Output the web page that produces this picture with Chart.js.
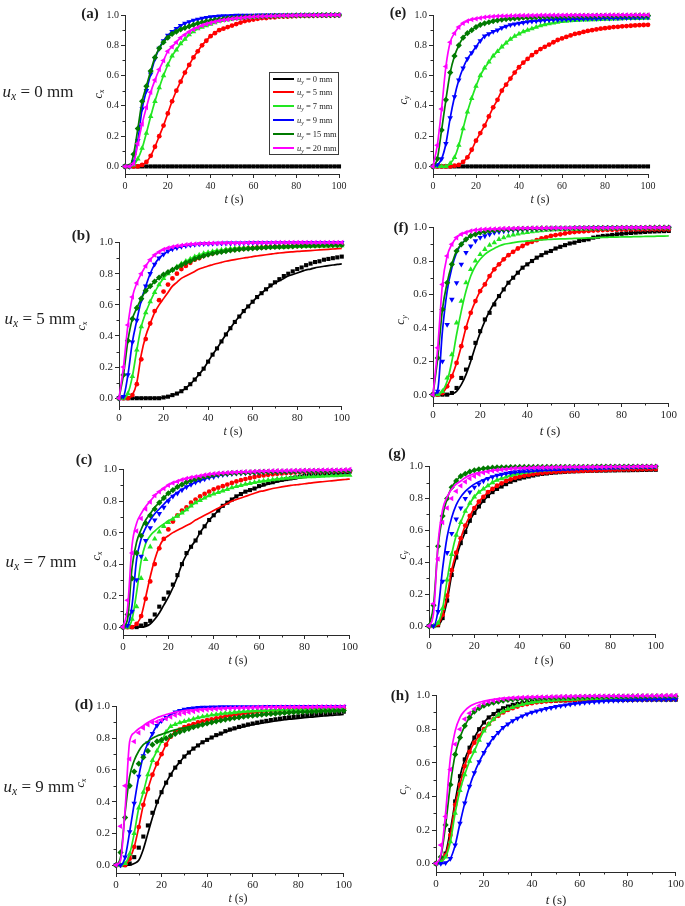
<!DOCTYPE html>
<html>
<head>
<meta charset="utf-8">
<title>Concentration curves c_x, c_y versus t</title>
<script src="https://cdn.jsdelivr.net/npm/chart.js@4.4.1/dist/chart.umd.min.js"></script>
<style>
  html, body { margin: 0; padding: 0; background: #fff; }
  body { width: 685px; height: 906px; position: relative; overflow: hidden;
         font-family: "Liberation Serif", "DejaVu Serif", serif; color: #1e1e1e; }
  canvas { position: absolute; }
  .txt { position: absolute; white-space: nowrap; line-height: 1; transform: translate(-50%, -50%); }
  .rot { transform: translate(-50%, -50%) rotate(-90deg); }
  .tag { font-weight: bold; font-size: 15px; }
  .ux { font-size: 17px; }
  .sub { font-size: 0.68em; vertical-align: -0.3em; }
  .legend { position: absolute; left: 269px; top: 72px; width: 68px; height: 81px;
            border: 1px solid #3a3a3a; background: #fff; }
  .legend .row { position: absolute; left: 2px; height: 10px; font-size: 8.5px; line-height: 10px; white-space: nowrap; }
  .legend .swatch { position: absolute; left: 1px; top: 4px; width: 21px; height: 2px; }
  .legend .lab { position: absolute; left: 25px; top: 0; }
</style>
</head>
<body>
<script>
// time of every sample (s)
const tSec = [0,2,4,6,8,10,12,14,16,18,20,22,24,26,28,30,32,34,36,38,40,42,44,46,48,50,52,54,56,58,60,62,64,66,68,70,72,74,76,78,80,82,84,86,88,90,92,94,96,98,100];

// (a) c_x, u_x = 0 mm
const a_black = [0,0,0,0,0,0,0,0,0,0, 0,0,0,0,0, 0,0,0,0,0, 0,0,0,0,0, 0,0,0,0,0, 0,0,0,0,0, 0,0,0,0,0, 0,0,0,0,0, 0,0,0,0,0, 0];
const a_red = [0,0,0,0,0.01,0.03,0.07,0.13,0.2,0.27, 0.35,0.43,0.5,0.56,0.62, 0.67,0.72,0.76,0.8,0.83, 0.86,0.88,0.9,0.91,0.92, 0.93,0.94,0.95,0.96,0.965, 0.97,0.975,0.98,0.98,0.985, 0.985,0.99,0.99,0.99,0.992, 0.993,0.994,0.995,0.995,0.996, 0.996,0.997,0.997,0.998,0.998, 0.999];
const a_green = [0,0,0.01,0.05,0.12,0.22,0.33,0.43,0.52,0.6, 0.67,0.73,0.77,0.81,0.84, 0.87,0.89,0.91,0.92,0.93, 0.94,0.95,0.96,0.965,0.97, 0.975,0.978,0.98,0.982,0.984, 0.986,0.988,0.99,0.99,0.991, 0.992,0.993,0.994,0.994,0.995, 0.995,0.996,0.996,0.997,0.997, 0.997,0.998,0.998,0.998,0.999, 0.999];
const a_blue = [0,0,0.03,0.17,0.38,0.5,0.61,0.71,0.78,0.83, 0.865,0.89,0.91,0.93,0.945, 0.955,0.965,0.972,0.978,0.983, 0.987,0.99,0.992,0.994,0.995, 0.996,0.997,0.997,0.998,0.998, 0.998,0.999,0.999,0.999,0.999, 0.999,1,1,1,1, 1,1,1,1,1, 1,1,1,1,1, 1];
const a_dkgreen = [0,0,0.08,0.25,0.43,0.53,0.63,0.72,0.78,0.82, 0.85,0.875,0.89,0.905,0.915, 0.925,0.935,0.945,0.952,0.958, 0.963,0.968,0.972,0.975,0.978, 0.98,0.982,0.984,0.986,0.988, 0.989,0.99,0.991,0.992,0.993, 0.994,0.995,0.995,0.996,0.996, 0.997,0.997,0.998,0.998,0.998, 0.999,0.999,0.999,0.999,0.999, 1];
const a_magenta = [0,0,0.02,0.15,0.28,0.39,0.49,0.57,0.64,0.7, 0.76,0.79,0.82,0.85,0.87, 0.89,0.905,0.918,0.93,0.94, 0.948,0.955,0.962,0.967,0.971, 0.975,0.978,0.981,0.984,0.986, 0.988,0.99,0.991,0.992,0.993, 0.994,0.995,0.996,0.996,0.997, 0.997,0.998,0.998,0.998,0.999, 0.999,0.999,0.999,1,1, 1];

// (e) c_y, u_x = 0 mm
const e_black = [0,0,0,0,0,0,0,0,0,0, 0,0,0,0,0, 0,0,0,0,0, 0,0,0,0,0, 0,0,0,0,0, 0,0,0,0,0, 0,0,0,0,0, 0,0,0,0,0, 0,0,0,0,0, 0];
const e_red = [0,0,0,0,0,0.005,0.01,0.03,0.06,0.11, 0.17,0.22,0.27,0.33,0.39, 0.44,0.5,0.54,0.58,0.62, 0.655,0.685,0.71,0.735,0.755, 0.775,0.79,0.805,0.82,0.835, 0.845,0.855,0.865,0.875,0.88, 0.888,0.895,0.9,0.905,0.91, 0.913,0.916,0.92,0.922,0.925, 0.927,0.929,0.931,0.933,0.934, 0.935];
const e_green = [0,0,0,0,0.02,0.06,0.14,0.25,0.36,0.45, 0.53,0.6,0.65,0.69,0.73, 0.76,0.79,0.815,0.84,0.86, 0.875,0.89,0.9,0.91,0.92, 0.93,0.937,0.943,0.948,0.953, 0.957,0.96,0.962,0.964,0.966, 0.967,0.968,0.969,0.97,0.971, 0.972,0.973,0.974,0.975,0.976, 0.977,0.977,0.978,0.978,0.979, 0.98];
const e_blue = [0,0.01,0.05,0.15,0.32,0.46,0.57,0.65,0.71,0.75, 0.79,0.83,0.86,0.875,0.89, 0.9,0.915,0.925,0.935,0.94, 0.945,0.95,0.955,0.958,0.96, 0.963,0.965,0.967,0.968,0.969, 0.97,0.971,0.972,0.973,0.974, 0.975,0.976,0.977,0.977,0.978, 0.979,0.979,0.98,0.98,0.981, 0.982,0.982,0.983,0.983,0.984, 0.985];
const e_dkgreen = [0,0.05,0.24,0.44,0.62,0.73,0.8,0.85,0.88,0.9, 0.92,0.935,0.945,0.952,0.96, 0.965,0.97,0.973,0.976,0.978, 0.98,0.982,0.983,0.984,0.985, 0.986,0.987,0.988,0.989,0.99, 0.99,0.991,0.991,0.992,0.992, 0.993,0.993,0.993,0.994,0.994, 0.994,0.994,0.995,0.995,0.995, 0.995,0.995,0.996,0.996,0.996, 0.996];
const e_magenta = [0,0.14,0.38,0.66,0.82,0.88,0.92,0.945,0.96,0.97, 0.975,0.98,0.985,0.988,0.99, 0.992,0.993,0.994,0.995,0.995, 0.996,0.996,0.997,0.997,0.997, 0.998,0.998,0.998,0.998,0.998, 0.999,0.999,0.999,0.999,0.999, 0.999,0.999,0.999,0.999,0.999, 1,1,1,1,1, 1,1,1,1,1, 1];

// (b) c_x, u_x = 5 mm
const b_black = [0,0,0,0,0,0,0,0,0,0, 0.005,0.01,0.02,0.03,0.045, 0.065,0.09,0.12,0.155,0.19, 0.235,0.28,0.32,0.365,0.41, 0.45,0.49,0.525,0.56,0.59, 0.62,0.65,0.675,0.7,0.725, 0.745,0.765,0.785,0.8,0.815, 0.83,0.84,0.855,0.865,0.875, 0.88,0.89,0.895,0.9,0.905, 0.91];
const b_blackFit = [0,0,0,0,0,0,0,0,0,0, 0.005,0.01,0.02,0.03,0.045, 0.065,0.09,0.12,0.155,0.19, 0.235,0.28,0.32,0.365,0.41, 0.45,0.49,0.525,0.56,0.59, 0.62,0.65,0.675,0.7,0.72, 0.74,0.755,0.77,0.785,0.795, 0.805,0.815,0.825,0.83,0.838, 0.843,0.848,0.852,0.856,0.86, 0.863];
const b_red = [0,0,0,0.02,0.09,0.25,0.38,0.48,0.56,0.63, 0.685,0.73,0.77,0.8,0.83, 0.85,0.87,0.89,0.9,0.915, 0.925,0.93,0.94,0.945,0.95, 0.953,0.956,0.959,0.961,0.963, 0.965,0.967,0.968,0.97,0.971, 0.972,0.973,0.974,0.975,0.976, 0.977,0.978,0.979,0.979,0.98, 0.981,0.982,0.983,0.984,0.984, 0.985];
const b_redFit = [0,0,0,0.02,0.1,0.28,0.4,0.48,0.55,0.6, 0.64,0.68,0.72,0.745,0.77, 0.785,0.8,0.815,0.83,0.84, 0.85,0.858,0.866,0.873,0.88, 0.886,0.891,0.896,0.901,0.905, 0.91,0.914,0.918,0.922,0.926, 0.93,0.933,0.936,0.939,0.941, 0.943,0.945,0.947,0.949,0.951, 0.953,0.955,0.957,0.959,0.961, 0.963];
const b_green = [0,0,0.03,0.14,0.31,0.46,0.55,0.62,0.68,0.73, 0.77,0.8,0.825,0.845,0.865, 0.88,0.895,0.91,0.92,0.93, 0.937,0.943,0.948,0.952,0.956, 0.96,0.962,0.964,0.965,0.966, 0.967,0.968,0.969,0.97,0.971, 0.972,0.973,0.973,0.974,0.975, 0.976,0.976,0.977,0.977,0.978, 0.978,0.979,0.979,0.98,0.98, 0.98];
const b_blue = [0,0.01,0.15,0.36,0.5,0.63,0.72,0.8,0.86,0.9, 0.925,0.945,0.958,0.967,0.975, 0.98,0.984,0.987,0.99,0.992, 0.993,0.994,0.995,0.995,0.996, 0.996,0.997,0.997,0.997,0.998, 0.998,0.998,0.998,0.998,0.999, 0.999,0.999,0.999,0.999,0.999, 0.999,0.999,1,1,1, 1,1,1,1,1, 1];
const b_dkgreen = [0,0.15,0.37,0.51,0.58,0.64,0.69,0.72,0.75,0.775, 0.795,0.81,0.825,0.84,0.855, 0.87,0.88,0.895,0.905,0.915, 0.922,0.93,0.935,0.94,0.945, 0.95,0.953,0.956,0.959,0.961, 0.963,0.965,0.967,0.969,0.971, 0.972,0.973,0.974,0.975,0.976, 0.978,0.979,0.98,0.98,0.981, 0.982,0.983,0.983,0.984,0.984, 0.985];
const b_magenta = [0,0.2,0.47,0.65,0.74,0.8,0.85,0.89,0.92,0.94, 0.955,0.965,0.972,0.978,0.982, 0.986,0.989,0.991,0.993,0.994, 0.995,0.996,0.996,0.997,0.997, 0.998,0.998,0.998,0.998,0.999, 0.999,0.999,0.999,0.999,0.999, 1,1,1,1,1, 1,1,1,1,1, 1,1,1,1,1, 1];

// (f) c_y, u_x = 5 mm
const f_black = [0,0,0,0,0.01,0.04,0.1,0.15,0.22,0.31, 0.38,0.45,0.49,0.54,0.59, 0.63,0.67,0.7,0.73,0.76, 0.78,0.8,0.82,0.835,0.85, 0.86,0.875,0.885,0.895,0.905, 0.91,0.92,0.925,0.93,0.94, 0.945,0.95,0.952,0.956,0.96, 0.963,0.966,0.968,0.97,0.972, 0.974,0.976,0.977,0.978,0.979, 0.98];
const f_blackFit = [0,0,0,0,0.005,0.02,0.06,0.12,0.2,0.29, 0.37,0.44,0.5,0.55,0.59, 0.63,0.67,0.7,0.73,0.76, 0.78,0.8,0.82,0.835,0.85, 0.86,0.875,0.885,0.895,0.905, 0.91,0.92,0.925,0.93,0.94, 0.945,0.95,0.952,0.956,0.96, 0.963,0.966,0.968,0.97,0.972, 0.974,0.976,0.977,0.978,0.979, 0.98];
const f_red = [0,0,0.01,0.05,0.11,0.19,0.29,0.4,0.49,0.56, 0.62,0.66,0.71,0.75,0.78, 0.81,0.835,0.855,0.875,0.89, 0.905,0.915,0.925,0.935,0.942, 0.95,0.955,0.96,0.965,0.97, 0.973,0.976,0.978,0.98,0.982, 0.984,0.985,0.986,0.987,0.987, 0.988,0.988,0.989,0.989,0.989, 0.99,0.99,0.99,0.99,0.99, 0.99];
const f_green = [0,0,0.02,0.1,0.24,0.43,0.56,0.67,0.75,0.8, 0.84,0.87,0.895,0.91,0.93, 0.94,0.95,0.957,0.963,0.968, 0.972,0.976,0.979,0.982,0.984, 0.986,0.987,0.988,0.989,0.99, 0.99,0.991,0.992,0.992,0.993, 0.993,0.994,0.994,0.995,0.995, 0.996,0.996,0.997,0.997,0.997, 0.998,0.998,0.999,0.999,0.999, 1];
const f_greenFit = [0,0,0.02,0.08,0.2,0.36,0.5,0.62,0.71,0.77, 0.81,0.84,0.86,0.875,0.89, 0.9,0.905,0.91,0.915,0.918, 0.92,0.922,0.924,0.926,0.928, 0.93,0.931,0.932,0.933,0.934, 0.935,0.936,0.937,0.938,0.939, 0.94,0.941,0.942,0.943,0.943, 0.944,0.945,0.945,0.946,0.946, 0.947,0.948,0.948,0.949,0.949, 0.95];
const f_blue = [0,0.02,0.2,0.42,0.57,0.67,0.78,0.85,0.89,0.92, 0.94,0.95,0.96,0.97,0.975, 0.98,0.983,0.986,0.988,0.99, 0.991,0.992,0.993,0.994,0.994, 0.995,0.995,0.996,0.996,0.996, 0.997,0.997,0.997,0.997,0.998, 0.998,0.998,0.998,0.998,0.998, 0.999,0.999,0.999,0.999,0.999, 0.999,0.999,1,1,1, 1];
const f_blueFit = [0,0.03,0.38,0.62,0.76,0.85,0.9,0.93,0.95,0.965, 0.972,0.976,0.98,0.982,0.984, 0.985,0.986,0.987,0.988,0.989, 0.99,0.991,0.992,0.993,0.993, 0.994,0.994,0.995,0.995,0.995, 0.996,0.996,0.996,0.997,0.997, 0.997,0.997,0.998,0.998,0.998, 0.998,0.999,0.999,0.999,0.999, 0.999,0.999,1,1,1, 1];
const f_dkgreen = [0,0.22,0.51,0.67,0.78,0.86,0.9,0.93,0.95,0.96, 0.97,0.975,0.98,0.983,0.986, 0.988,0.989,0.99,0.991,0.992, 0.993,0.994,0.994,0.995,0.995, 0.995,0.996,0.996,0.996,0.996, 0.997,0.997,0.997,0.997,0.998, 0.998,0.998,0.998,0.998,0.998, 0.999,0.999,0.999,0.999,0.999, 0.999,1,1,1,1, 1];
const f_magenta = [0,0.28,0.66,0.83,0.9,0.94,0.96,0.97,0.98,0.985, 0.988,0.99,0.991,0.992,0.993, 0.994,0.995,0.995,0.996,0.996, 0.996,0.997,0.997,0.997,0.997, 0.998,0.998,0.998,0.998,0.998, 0.999,0.999,0.999,0.999,0.999, 0.999,0.999,0.999,0.999,0.999, 1,1,1,1,1, 1,1,1,1,1, 1];

// (c) c_x, u_x = 7 mm
const c_black = [0,0,0,0,0.01,0.02,0.04,0.08,0.13,0.18, 0.22,0.27,0.33,0.4,0.47, 0.51,0.55,0.6,0.64,0.68, 0.71,0.74,0.77,0.79,0.81, 0.83,0.845,0.86,0.87,0.88, 0.895,0.905,0.915,0.92,0.93, 0.935,0.94,0.945,0.95,0.955, 0.96,0.965,0.968,0.971,0.974, 0.977,0.98,0.982,0.984,0.986, 0.988];
const c_blackFit = [0,0,0,0,0,0.005,0.02,0.05,0.09,0.14, 0.19,0.25,0.32,0.4,0.46, 0.51,0.55,0.6,0.64,0.68, 0.71,0.74,0.77,0.79,0.81, 0.83,0.845,0.86,0.87,0.88, 0.89,0.9,0.908,0.915,0.922, 0.928,0.933,0.938,0.943,0.947, 0.951,0.955,0.958,0.961,0.964, 0.966,0.968,0.97,0.972,0.974, 0.976];
const c_red = [0,0,0,0.02,0.07,0.18,0.29,0.4,0.5,0.56, 0.62,0.67,0.71,0.74,0.76, 0.79,0.81,0.83,0.845,0.86, 0.875,0.885,0.895,0.905,0.915, 0.925,0.933,0.94,0.947,0.953, 0.96,0.963,0.967,0.97,0.973, 0.976,0.978,0.98,0.982,0.984, 0.985,0.986,0.987,0.987,0.988, 0.988,0.989,0.989,0.99,0.99, 0.99];
const c_redFit = [0,0,0,0.02,0.07,0.19,0.32,0.43,0.51,0.56, 0.58,0.6,0.615,0.63,0.645, 0.66,0.68,0.695,0.71,0.725, 0.74,0.755,0.77,0.785,0.8, 0.81,0.82,0.83,0.84,0.85, 0.86,0.865,0.873,0.88,0.885, 0.89,0.895,0.9,0.903,0.906, 0.91,0.914,0.917,0.92,0.923, 0.926,0.929,0.932,0.935,0.937, 0.94];
const c_green = [0,0,0.05,0.13,0.31,0.43,0.51,0.56,0.605,0.64, 0.665,0.685,0.705,0.725,0.745, 0.77,0.79,0.805,0.82,0.835, 0.845,0.855,0.865,0.875,0.885, 0.893,0.9,0.907,0.913,0.918, 0.923,0.928,0.932,0.936,0.94, 0.943,0.946,0.948,0.95,0.952, 0.954,0.955,0.956,0.957,0.958, 0.96,0.961,0.962,0.963,0.964, 0.965];
const c_greenFit = [0,0,0.05,0.22,0.42,0.53,0.58,0.61,0.635,0.655, 0.675,0.69,0.708,0.725,0.745, 0.77,0.79,0.805,0.82,0.835, 0.845,0.855,0.865,0.875,0.885, 0.893,0.9,0.907,0.913,0.918, 0.923,0.928,0.932,0.936,0.94, 0.943,0.946,0.948,0.95,0.952, 0.954,0.955,0.956,0.957,0.958, 0.96,0.961,0.962,0.963,0.964, 0.965];
const c_blue = [0,0.01,0.1,0.3,0.45,0.55,0.63,0.68,0.72,0.76, 0.8,0.83,0.85,0.87,0.89, 0.905,0.92,0.93,0.94,0.95, 0.955,0.962,0.967,0.97,0.973, 0.976,0.977,0.978,0.979,0.98, 0.982,0.983,0.984,0.985,0.985, 0.986,0.986,0.987,0.987,0.987, 0.988,0.988,0.988,0.989,0.989, 0.989,0.989,0.99,0.99,0.99, 0.99];
const c_blueFit = [0,0.01,0.14,0.43,0.56,0.63,0.68,0.72,0.75,0.78, 0.81,0.835,0.855,0.875,0.89, 0.905,0.92,0.93,0.94,0.95, 0.955,0.962,0.967,0.97,0.973, 0.976,0.977,0.978,0.979,0.98, 0.982,0.983,0.984,0.985,0.985, 0.986,0.986,0.987,0.987,0.987, 0.988,0.988,0.988,0.989,0.989, 0.989,0.989,0.99,0.99,0.99, 0.99];
const c_dkgreen = [0,0.08,0.31,0.47,0.58,0.66,0.71,0.75,0.79,0.82, 0.85,0.87,0.89,0.905,0.92, 0.93,0.94,0.948,0.955,0.96, 0.966,0.97,0.973,0.975,0.977, 0.978,0.98,0.981,0.982,0.983, 0.984,0.985,0.986,0.986,0.987, 0.987,0.988,0.988,0.989,0.989, 0.99,0.99,0.99,0.991,0.991, 0.991,0.992,0.992,0.992,0.993, 0.993];
const c_dkgreenFit = [0,0.05,0.38,0.54,0.62,0.68,0.72,0.76,0.79,0.82, 0.85,0.87,0.89,0.905,0.92, 0.93,0.94,0.948,0.955,0.96, 0.966,0.97,0.973,0.975,0.977, 0.978,0.98,0.981,0.982,0.983, 0.984,0.985,0.986,0.986,0.987, 0.987,0.988,0.988,0.989,0.989, 0.99,0.99,0.99,0.991,0.991, 0.991,0.992,0.992,0.992,0.993, 0.993];
const c_magenta = [0,0.17,0.47,0.61,0.69,0.75,0.795,0.835,0.86,0.88, 0.9,0.915,0.925,0.935,0.943, 0.95,0.955,0.96,0.965,0.97, 0.973,0.976,0.978,0.98,0.982, 0.983,0.985,0.986,0.987,0.988, 0.99,0.99,0.991,0.992,0.992, 0.993,0.993,0.994,0.994,0.995, 0.995,0.996,0.996,0.996,0.997, 0.997,0.997,0.998,0.998,0.999, 1];
const c_magentaFit = [0,0.12,0.52,0.66,0.72,0.765,0.8,0.835,0.86,0.88, 0.9,0.915,0.925,0.935,0.943, 0.95,0.955,0.96,0.965,0.97, 0.973,0.976,0.978,0.98,0.982, 0.983,0.985,0.986,0.987,0.988, 0.99,0.99,0.991,0.992,0.992, 0.993,0.993,0.994,0.994,0.995, 0.995,0.996,0.996,0.996,0.997, 0.997,0.997,0.998,0.998,0.999, 1];

// (g) c_y, u_x = 7 mm
const g_black = [0,0,0.005,0.05,0.16,0.32,0.43,0.52,0.59,0.66, 0.71,0.75,0.785,0.815,0.84, 0.86,0.875,0.89,0.905,0.915, 0.925,0.932,0.938,0.944,0.95, 0.954,0.957,0.96,0.963,0.965, 0.967,0.969,0.97,0.971,0.972, 0.973,0.974,0.974,0.975,0.975, 0.976,0.976,0.977,0.977,0.977, 0.978,0.978,0.979,0.979,0.98, 0.98];
const g_red = [0,0,0.01,0.07,0.19,0.35,0.46,0.55,0.63,0.69, 0.74,0.78,0.81,0.84,0.86, 0.88,0.895,0.91,0.92,0.93, 0.937,0.943,0.948,0.953,0.957, 0.96,0.963,0.965,0.967,0.969, 0.97,0.971,0.972,0.973,0.974, 0.975,0.976,0.977,0.978,0.979, 0.98,0.981,0.981,0.982,0.982, 0.983,0.983,0.984,0.984,0.985, 0.985];
const g_green = [0,0,0.02,0.11,0.29,0.45,0.57,0.65,0.72,0.77, 0.81,0.84,0.86,0.88,0.9, 0.915,0.925,0.935,0.945,0.952, 0.958,0.963,0.967,0.971,0.974, 0.977,0.979,0.981,0.983,0.985, 0.986,0.987,0.988,0.989,0.99, 0.99,0.991,0.991,0.992,0.992, 0.993,0.993,0.994,0.994,0.995, 0.995,0.996,0.996,0.997,0.997, 0.998];
const g_blue = [0,0,0.09,0.28,0.46,0.58,0.67,0.74,0.8,0.84, 0.87,0.89,0.91,0.925,0.935, 0.945,0.952,0.958,0.963,0.967, 0.97,0.973,0.976,0.978,0.98, 0.982,0.984,0.985,0.986,0.987, 0.988,0.989,0.99,0.991,0.992, 0.993,0.993,0.994,0.994,0.995, 0.995,0.996,0.996,0.997,0.997, 0.998,0.998,0.999,0.999,0.999, 1];
const g_blueFit = [0,0,0.1,0.36,0.56,0.68,0.76,0.81,0.845,0.87, 0.89,0.905,0.918,0.928,0.937, 0.944,0.95,0.955,0.959,0.962, 0.965,0.967,0.969,0.971,0.973, 0.975,0.976,0.977,0.978,0.979, 0.98,0.981,0.982,0.983,0.984, 0.985,0.985,0.986,0.986,0.987, 0.987,0.988,0.988,0.989,0.989, 0.99,0.99,0.99,0.991,0.991, 0.991];
const g_dkgreen = [0,0.13,0.5,0.69,0.8,0.87,0.91,0.94,0.955,0.968, 0.977,0.983,0.988,0.991,0.993, 0.995,0.996,0.996,0.997,0.997, 0.998,0.998,0.998,0.998,0.999, 0.999,0.999,0.999,0.999,0.999, 0.999,0.999,0.999,0.999,0.999, 0.999,0.999,1,1,1, 1,1,1,1,1, 1,1,1,1,1, 1];
const g_magenta = [0,0.14,0.42,0.65,0.74,0.8,0.845,0.88,0.905,0.925, 0.94,0.952,0.962,0.968,0.974, 0.978,0.981,0.984,0.987,0.989, 0.99,0.991,0.992,0.993,0.994, 0.994,0.995,0.995,0.996,0.996, 0.996,0.997,0.997,0.997,0.997, 0.998,0.998,0.998,0.998,0.998, 0.999,0.999,0.999,0.999,0.999, 0.999,1,1,1,1, 1];
const g_magentaFit = [0,0.08,0.52,0.73,0.81,0.86,0.89,0.91,0.93,0.945, 0.955,0.962,0.967,0.972,0.976, 0.978,0.981,0.984,0.987,0.989, 0.99,0.991,0.992,0.993,0.994, 0.994,0.995,0.995,0.996,0.996, 0.996,0.997,0.997,0.997,0.997, 0.998,0.998,0.998,0.998,0.998, 0.999,0.999,0.999,0.999,0.999, 0.999,1,1,1,1, 1];

// (d) c_x, u_x = 9 mm
const d_black = [0,0,0,0.01,0.05,0.11,0.18,0.25,0.33,0.4, 0.46,0.52,0.57,0.615,0.65, 0.685,0.71,0.735,0.755,0.775, 0.79,0.805,0.82,0.83,0.845, 0.855,0.863,0.872,0.88,0.887, 0.893,0.899,0.905,0.91,0.915, 0.92,0.924,0.928,0.932,0.935, 0.938,0.942,0.945,0.948,0.95, 0.953,0.956,0.959,0.962,0.965, 0.968];
const d_blackFit = [0,0,0,0,0.01,0.03,0.1,0.2,0.3,0.39, 0.46,0.52,0.57,0.615,0.65, 0.685,0.71,0.735,0.755,0.775, 0.79,0.805,0.818,0.828,0.84, 0.85,0.858,0.866,0.873,0.88, 0.886,0.891,0.896,0.9,0.905, 0.909,0.913,0.917,0.92,0.923, 0.926,0.929,0.932,0.934,0.937, 0.939,0.942,0.944,0.946,0.948, 0.95];
const d_red = [0,0,0,0.04,0.115,0.24,0.38,0.48,0.57,0.64, 0.7,0.76,0.81,0.84,0.855, 0.87,0.88,0.89,0.9,0.907, 0.914,0.92,0.926,0.932,0.938, 0.943,0.948,0.952,0.956,0.96, 0.963,0.966,0.969,0.971,0.973, 0.975,0.977,0.978,0.979,0.98, 0.981,0.982,0.983,0.984,0.985, 0.986,0.987,0.988,0.988,0.989, 0.99];
const d_green = [0,0,0.01,0.07,0.2,0.36,0.46,0.57,0.66,0.72, 0.78,0.84,0.875,0.888,0.898, 0.906,0.914,0.922,0.93,0.936, 0.942,0.947,0.951,0.955,0.958, 0.961,0.964,0.967,0.969,0.971, 0.973,0.974,0.975,0.976,0.977, 0.978,0.979,0.979,0.98,0.98, 0.981,0.981,0.982,0.982,0.983, 0.983,0.984,0.984,0.985,0.985, 0.986];
const d_blue = [0,0,0.05,0.21,0.39,0.56,0.69,0.77,0.83,0.88, 0.91,0.93,0.95,0.965,0.975, 0.982,0.987,0.991,0.993,0.995, 0.996,0.997,0.997,0.998,0.998, 0.998,0.999,0.999,0.999,0.999, 0.999,0.999,0.999,1,1, 1,1,1,1,1, 1,1,1,1,1, 1,1,1,1,1, 1];
const d_dkgreen = [0,0.08,0.3,0.5,0.59,0.64,0.68,0.72,0.76,0.78, 0.79,0.8,0.815,0.828,0.84, 0.85,0.86,0.87,0.878,0.886, 0.894,0.9,0.907,0.913,0.918, 0.923,0.928,0.932,0.936,0.94, 0.943,0.946,0.949,0.952,0.954, 0.956,0.958,0.96,0.962,0.964, 0.965,0.966,0.967,0.968,0.969, 0.971,0.972,0.973,0.974,0.975, 0.976];
const d_dkgreenFit = [0,0.05,0.33,0.56,0.66,0.72,0.76,0.78,0.8,0.815, 0.825,0.835,0.845,0.853,0.86, 0.866,0.872,0.878,0.884,0.889, 0.894,0.9,0.907,0.913,0.918, 0.923,0.928,0.932,0.936,0.94, 0.943,0.946,0.949,0.952,0.954, 0.956,0.958,0.96,0.962,0.964, 0.965,0.966,0.967,0.968,0.969, 0.971,0.972,0.973,0.974,0.975, 0.976];
const d_magenta = [0,0.245,0.5,0.67,0.78,0.835,0.865,0.885,0.9,0.905, 0.915,0.925,0.935,0.945,0.953, 0.96,0.965,0.97,0.975,0.978, 0.981,0.983,0.985,0.987,0.988, 0.99,0.991,0.992,0.993,0.993, 0.994,0.995,0.995,0.996,0.996, 0.996,0.997,0.997,0.997,0.998, 0.998,0.998,0.998,0.998,0.999, 0.999,0.999,0.999,0.999,0.999, 1];
const d_magentaFit = [0,0.03,0.35,0.78,0.835,0.86,0.88,0.9,0.915,0.93, 0.94,0.95,0.958,0.965,0.97, 0.975,0.978,0.98,0.982,0.984, 0.986,0.987,0.988,0.989,0.99, 0.99,0.991,0.992,0.993,0.993, 0.994,0.995,0.995,0.996,0.996, 0.996,0.997,0.997,0.997,0.998, 0.998,0.998,0.998,0.998,0.999, 0.999,0.999,0.999,0.999,0.999, 1];

// (h) c_y, u_x = 9 mm
const h_black = [0,0.01,0.06,0.2,0.37,0.52,0.62,0.69,0.75,0.8, 0.84,0.87,0.89,0.91,0.925, 0.935,0.945,0.95,0.955,0.96, 0.963,0.965,0.967,0.968,0.969, 0.97,0.971,0.971,0.972,0.972, 0.973,0.973,0.974,0.974,0.974, 0.975,0.975,0.975,0.975,0.975, 0.975,0.975,0.976,0.976,0.976, 0.976,0.976,0.976,0.976,0.976, 0.976];
const h_red = [0,0.01,0.05,0.17,0.35,0.47,0.58,0.665,0.72,0.76, 0.8,0.83,0.86,0.88,0.9, 0.915,0.925,0.935,0.945,0.95, 0.955,0.96,0.963,0.966,0.968, 0.97,0.971,0.972,0.973,0.974, 0.975,0.975,0.976,0.976,0.977, 0.977,0.977,0.978,0.978,0.978, 0.978,0.979,0.979,0.979,0.979, 0.979,0.98,0.98,0.98,0.98, 0.98];
const h_green = [0,0.01,0.04,0.13,0.3,0.435,0.53,0.61,0.67,0.735, 0.79,0.83,0.86,0.885,0.905, 0.92,0.93,0.94,0.948,0.955, 0.96,0.964,0.967,0.97,0.972, 0.974,0.976,0.977,0.978,0.979, 0.98,0.981,0.982,0.983,0.984, 0.984,0.985,0.985,0.986,0.986, 0.987,0.987,0.988,0.988,0.988, 0.989,0.989,0.989,0.99,0.99, 0.99];
const h_blue = [0,0,0.005,0.03,0.11,0.24,0.36,0.46,0.54,0.605, 0.66,0.71,0.75,0.78,0.81, 0.83,0.85,0.865,0.878,0.89, 0.9,0.908,0.915,0.922,0.928, 0.934,0.939,0.944,0.948,0.952, 0.955,0.958,0.961,0.963,0.965, 0.967,0.969,0.97,0.971,0.972, 0.973,0.974,0.975,0.975,0.976, 0.976,0.977,0.977,0.977,0.978, 0.978];
const h_dkgreen = [0,0.04,0.23,0.47,0.65,0.75,0.82,0.87,0.905,0.925, 0.94,0.95,0.958,0.964,0.97, 0.974,0.977,0.979,0.981,0.982, 0.983,0.984,0.985,0.986,0.987, 0.988,0.988,0.989,0.989,0.99, 0.991,0.991,0.992,0.992,0.993, 0.993,0.993,0.994,0.994,0.994, 0.994,0.995,0.995,0.995,0.995, 0.995,0.996,0.996,0.996,0.996, 0.996];
const h_magenta = [0,0.11,0.28,0.56,0.71,0.8,0.86,0.895,0.92,0.94, 0.955,0.963,0.97,0.975,0.98, 0.983,0.985,0.987,0.988,0.99, 0.99,0.991,0.992,0.992,0.993, 0.993,0.994,0.994,0.995,0.995, 0.996,0.996,0.996,0.997,0.997, 0.997,0.997,0.998,0.998,0.998, 0.998,0.998,0.999,0.999,0.999, 0.999,0.999,0.999,1,1, 1];
const h_magentaFit = [0,0.05,0.3,0.63,0.79,0.87,0.91,0.935,0.95,0.96, 0.968,0.974,0.978,0.982,0.985, 0.987,0.988,0.989,0.99,0.99, 0.991,0.992,0.992,0.993,0.993, 0.994,0.994,0.995,0.995,0.996, 0.996,0.996,0.997,0.997,0.997, 0.997,0.998,0.998,0.998,0.998, 0.998,0.999,0.999,0.999,0.999, 0.999,0.999,1,1,1, 1];

// legend / series
const uyLabels = ['0', '5', '7', '9', '15', '20'];
const seriesColors = ['#000000', '#ff0000', '#22e622', '#0000ff', '#007a00', '#ff00ff'];
const markerStyles = [
  { style: 'rect', r: 2.9, rot: 0 },
  { style: 'circle', r: 2.4, rot: 0 },
  { style: 'triangle', r: 3.2, rot: 0 },
  { style: 'triangle', r: 3.2, rot: 180 },
  { style: 'rectRot', r: 3.1, rot: 0 },
  { style: 'triangle', r: 3.2, rot: -90 }
];
const yTicks = [0, 0.2, 0.4, 0.6, 0.8, 1.0];
const yMinor = [0.1, 0.3, 0.5, 0.7, 0.9];
const xTicks = [0, 20, 40, 60, 80, 100];
const xMinor = [10, 30, 50, 70, 90];

const panels = [
  { tag: '(a)', comp: 'x', ux: '0', legend: true,
    marks: [a_black, a_red, a_green, a_blue, a_dkgreen, a_magenta],
    fits:  [a_black, a_red, a_green, a_blue, a_dkgreen, a_magenta],
    box: { L: 125, R: 339, T: 15, B: 174 }, tickFont: 10,
    tagAt: [90, 13], uxAt: [38, 93], yAt: [99, 94], tAt: [234, 199], titleSize: 12 },
  { tag: '(e)', comp: 'y',
    marks: [e_black, e_red, e_green, e_blue, e_dkgreen, e_magenta],
    fits:  [e_black, e_red, e_green, e_blue, e_dkgreen, e_magenta],
    box: { L: 433, R: 648, T: 15, B: 174 }, tickFont: 10,
    tagAt: [398, 12], yAt: [404, 100], tAt: [540, 199], titleSize: 12 },
  { tag: '(b)', comp: 'x', ux: '5',
    marks: [b_black, b_red, b_green, b_blue, b_dkgreen, b_magenta],
    fits:  [b_blackFit, b_redFit, b_green, b_blue, b_dkgreen, b_magenta],
    box: { L: 119, R: 342, T: 242, B: 406 }, tickFont: 11,
    tagAt: [81, 235], uxAt: [40, 320], yAt: [82, 326], tAt: [233, 431], titleSize: 12 },
  { tag: '(f)', comp: 'y',
    marks: [f_black, f_red, f_green, f_blue, f_dkgreen, f_magenta],
    fits:  [f_blackFit, f_red, f_greenFit, f_blueFit, f_dkgreen, f_magenta],
    box: { L: 433, R: 669, T: 227, B: 403 }, tickFont: 11,
    tagAt: [401, 227], yAt: [401, 320], tAt: [550, 430], titleSize: 13 },
  { tag: '(c)', comp: 'x', ux: '7',
    marks: [c_black, c_red, c_green, c_blue, c_dkgreen, c_magenta],
    fits:  [c_blackFit, c_redFit, c_greenFit, c_blueFit, c_dkgreenFit, c_magentaFit],
    box: { L: 123, R: 350, T: 469, B: 635 }, tickFont: 11,
    tagAt: [84, 459], uxAt: [41, 563], yAt: [97, 556], tAt: [238, 660], titleSize: 12 },
  { tag: '(g)', comp: 'y',
    marks: [g_black, g_red, g_green, g_blue, g_dkgreen, g_magenta],
    fits:  [g_black, g_red, g_green, g_blueFit, g_dkgreen, g_magentaFit],
    box: { L: 429, R: 656, T: 466, B: 634 }, tickFont: 11,
    tagAt: [397, 453], yAt: [403, 555], tAt: [544, 660], titleSize: 12 },
  { tag: '(d)', comp: 'x', ux: '9',
    marks: [d_black, d_red, d_green, d_blue, d_dkgreen, d_magenta],
    fits:  [d_blackFit, d_red, d_green, d_blue, d_dkgreenFit, d_magentaFit],
    box: { L: 116, R: 344, T: 706, B: 873 }, tickFont: 11,
    tagAt: [84, 704], uxAt: [39, 788], yAt: [81, 783], tAt: [238, 898], titleSize: 12 },
  { tag: '(h)', comp: 'y',
    marks: [h_black, h_red, h_green, h_blue, h_dkgreen, h_magenta],
    fits:  [h_black, h_red, h_green, h_blue, h_dkgreen, h_magentaFit],
    box: { L: 436, R: 676, T: 695, B: 872 }, tickFont: 11,
    tagAt: [400, 695], yAt: [403, 790], tAt: [556, 899], titleSize: 13 }
];

Chart.defaults.font.family = '"Liberation Serif", "DejaVu Serif", serif';
Chart.defaults.color = '#262626';

// small outward ticks between the labelled ones
const minorTicks = {
  id: 'minorTicks',
  afterDraw(chart) {
    const { ctx, chartArea: a } = chart;
    const xs = chart.scales.x, ys = chart.scales.y;
    ctx.save();
    ctx.strokeStyle = '#2a2a2a';
    ctx.lineWidth = 1;
    ctx.beginPath();
    xMinor.forEach(v => {
      const px = Math.round(xs.getPixelForValue(v)) + 0.5;
      ctx.moveTo(px, a.bottom);
      ctx.lineTo(px, a.bottom + 2.5);
    });
    yMinor.forEach(v => {
      const py = Math.round(ys.getPixelForValue(v)) + 0.5;
      ctx.moveTo(a.left, py);
      ctx.lineTo(a.left - 2.5, py);
    });
    ctx.stroke();
    ctx.restore();
  }
};

function addText(html, x, y, cls, size) {
  const el = document.createElement('div');
  el.className = 'txt ' + (cls || '');
  el.style.left = x + 'px';
  el.style.top = y + 'px';
  if (size) el.style.fontSize = size + 'px';
  el.innerHTML = html;
  document.body.appendChild(el);
}

function drawPanel(p) {
  const padL = 34, padT = 8, padR = 10, padB = 22;
  const w = p.box.R - p.box.L + padL + padR;
  const h = p.box.B - p.box.T + padT + padB;
  const cv = document.createElement('canvas');
  cv.width = w; cv.height = h;
  cv.style.left = (p.box.L - padL) + 'px';
  cv.style.top = (p.box.T - padT) + 'px';
  cv.style.width = w + 'px';
  cv.style.height = h + 'px';
  document.body.appendChild(cv);

  const datasets = [];
  p.marks.forEach((vals, i) => {
    const fit = p.fits[i];
    datasets.push({
      data: tSec.map((t, k) => ({ x: t, y: fit[k] })),
      showLine: true,
      borderColor: seriesColors[i],
      borderWidth: 1.7,
      pointRadius: 0,
      cubicInterpolationMode: 'monotone',
      clip: false,
      order: 100 - i * 2
    });
    datasets.push({
      data: tSec.map((t, k) => ({ x: t, y: vals[k] })),
      showLine: false,
      pointStyle: markerStyles[i].style,
      pointRadius: markerStyles[i].r,
      pointRotation: markerStyles[i].rot,
      pointBackgroundColor: seriesColors[i],
      pointBorderWidth: 0,
      clip: false,
      order: 99 - i * 2
    });
  });

  const tickFont = { size: p.tickFont };
  new Chart(cv, {
    type: 'scatter',
    data: { datasets },
    options: {
      responsive: false,
      animation: false,
      devicePixelRatio: 1,
      layout: { padding: { top: padT, right: padR, left: 0, bottom: 0 } },
      plugins: { legend: { display: false }, tooltip: { enabled: false } },
      scales: {
        x: {
          type: 'linear', min: 0, max: 100,
          afterFit: s => { s.height = padB; },
          afterBuildTicks: s => { s.ticks = xTicks.map(v => ({ value: v })); },
          ticks: { font: tickFont, color: '#262626', padding: 2, maxRotation: 0, autoSkip: false },
          grid: { drawOnChartArea: false, drawTicks: true, tickLength: 4, color: '#2a2a2a' },
          border: { display: true, color: '#2a2a2a', width: 1 }
        },
        y: {
          type: 'linear', min: -0.05, max: 1,
          afterFit: s => { s.width = padL; },
          afterBuildTicks: s => { s.ticks = yTicks.map(v => ({ value: v })); },
          ticks: { font: tickFont, color: '#262626', padding: 2, autoSkip: false,
                   callback: v => Number(v).toFixed(1) },
          grid: { drawOnChartArea: false, drawTicks: true, tickLength: 4, color: '#2a2a2a' },
          border: { display: true, color: '#2a2a2a', width: 1 }
        }
      }
    },
    plugins: [minorTicks]
  });

  addText(p.tag, p.tagAt[0], p.tagAt[1], 'tag');
  if (p.ux) {
    addText('<i>u</i><span class="sub"><i>x</i></span> = ' + p.ux + ' mm', p.uxAt[0], p.uxAt[1], 'ux');
  }
  addText('<i>c</i><span class="sub"><i>' + p.comp + '</i></span>', p.yAt[0], p.yAt[1], 'rot', p.titleSize);
  addText('<i>t</i> (s)', p.tAt[0], p.tAt[1], '', p.titleSize);

  if (p.legend) {
    const lg = document.createElement('div');
    lg.className = 'legend';
    uyLabels.forEach((u, i) => {
      const row = document.createElement('div');
      row.className = 'row';
      row.style.top = (i * 13.9 + 0.5) + 'px';
      row.innerHTML = '<span class="swatch" style="background:' + seriesColors[i] + '"></span>' +
        '<span class="lab"><i>u</i><span class="sub"><i>y</i></span> = ' + u + ' mm</span>';
      lg.appendChild(row);
    });
    document.body.appendChild(lg);
  }
}

panels.forEach(drawPanel);
</script>
</body>
</html>
